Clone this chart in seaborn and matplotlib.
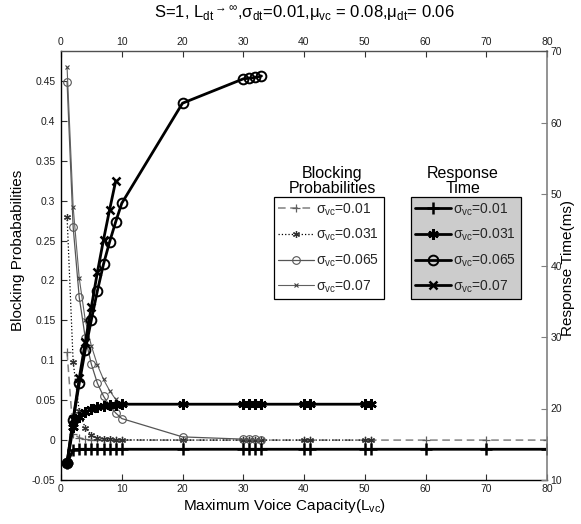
import numpy as np
import pandas as pd
import matplotlib
matplotlib.use("Agg")
import matplotlib.pyplot as plt
import seaborn as sns

sns.set_theme(style="white")
plt.rcParams['font.family'] = ['Liberation Sans', 'DejaVu Sans']
plt.rcParams['mathtext.fontset'] = 'custom'
plt.rcParams['mathtext.rm'] = 'Liberation Sans'
plt.rcParams['mathtext.it'] = 'Liberation Sans:italic'
plt.rcParams['mathtext.default'] = 'regular'

# ---------------- data ----------------
x_s001 = [1, 2, 3, 4, 5, 6, 7, 8, 9, 10, 20, 30, 31, 32, 33, 40, 41, 50, 51, 60, 70, 80]
x_s0031 = [1, 2, 3, 4, 5, 6, 7, 8, 9, 10, 20, 30, 31, 32, 33, 40, 41, 50, 51]
x_s0065 = [1, 2, 3, 4, 5, 6, 7, 8, 9, 10, 20, 30, 31, 32, 33]
x_s007 = [1, 2, 3, 4, 5, 6, 7, 8, 9]

# blocking probabilities (left axis)
bp_s001 = [0.11, 0.008, 0.003, 0.001, 0, 0, 0, 0, 0, 0, 0, 0, 0, 0, 0, 0, 0, 0, 0, 0, 0, 0]
bp_s0031 = [0.28, 0.098, 0.036, 0.015, 0.0065, 0.003, 0.0015, 0.0008, 0.0004, 0.0002,
            0, 0, 0, 0, 0, 0, 0, 0, 0]
bp_s0065 = [0.449, 0.267, 0.179, 0.128, 0.095, 0.071, 0.055, 0.043, 0.034, 0.027,
            0.004, 0.0012, 0.001, 0.0008, 0.0006]
bp_s007 = [0.467, 0.292, 0.203, 0.150, 0.118, 0.094, 0.076, 0.062, 0.051]

# response time in ms (right axis)
rt_s001 = [12.4, 14.2, 14.3, 14.3, 14.3, 14.3, 14.3, 14.3, 14.3, 14.3, 14.3, 14.3, 14.3,
           14.3, 14.3, 14.3, 14.3, 14.3, 14.3, 14.3, 14.3, 14.3]
rt_s0031 = [12.4, 17.4, 18.8, 19.5, 19.9, 20.2, 20.4, 20.5, 20.55, 20.6, 20.6, 20.6, 20.6,
            20.6, 20.6, 20.6, 20.6, 20.6, 20.6]
rt_s0065 = [12.4, 18.4, 23.5, 28.2, 32.4, 36.5, 40.2, 43.3, 46.1, 48.7, 62.7, 66.1, 66.2,
            66.3, 66.5]
rt_s007 = [12.4, 18.5, 24.2, 29.3, 34.2, 39.1, 43.6, 47.8, 51.8]

legend_labels = [r'$\sigma_{vc}$=0.01', r'$\sigma_{vc}$=0.031',
                 r'$\sigma_{vc}$=0.065', r'$\sigma_{vc}$=0.07']

left_ticks = [-0.05, 0, 0.05, 0.1, 0.15, 0.2, 0.25, 0.3, 0.35, 0.4, 0.45]
left_ticklabels = ['-0.05', '0', '0.05', '0.1', '0.15', '0.2', '0.25', '0.3', '0.35', '0.4', '0.45']
right_ticks = [10, 20, 30, 40, 50, 60, 70]
x_ticks = [0, 10, 20, 30, 40, 50, 60, 70, 80]

# ---------------- figure ----------------
W, H = 581, 524
fig = plt.figure(figsize=(W / 100, H / 100), dpi=100)
ax = fig.add_axes([61 / W, 1 - 480 / H, 486 / W, 429 / H])
ax2 = ax.twinx()

tick_col = '#202020'
ASTER = (6, 2, 0)

# blocking probability lines (thin)
bp_handles = []
sns.lineplot(x=x_s001, y=bp_s001, ax=ax, color='#808080', lw=1.1,
             marker='+', markersize=6, markeredgecolor='#606060', markeredgewidth=0.9,
             legend=False)
ln = ax.lines[-1]
ln.set_dashes((5, 3))
bp_handles.append(ln)
sns.lineplot(x=x_s0031, y=bp_s0031, ax=ax, color='black', lw=0.9, linestyle=':',
             marker=ASTER, markersize=5, markeredgecolor='#303030',
             markeredgewidth=0.9, legend=False)
bp_handles.append(ax.lines[-1])
sns.lineplot(x=x_s0065, y=bp_s0065, ax=ax, color='#555555', lw=0.9,
             marker='o', markersize=5.5, markeredgecolor='#555555', markerfacecolor='none',
             markeredgewidth=0.8, legend=False)
bp_handles.append(ax.lines[-1])
sns.lineplot(x=x_s007, y=bp_s007, ax=ax, color='#606060', lw=0.8,
             marker='x', markersize=3.5, markeredgecolor='#404040',
             markeredgewidth=0.8, legend=False)
bp_handles.append(ax.lines[-1])

# response time lines (bold)
rt_handles = []
sns.lineplot(x=x_s001, y=rt_s001, ax=ax2, color='black', lw=2,
             marker='+', markersize=8, markeredgecolor='black', markeredgewidth=1.8,
             legend=False)
rt_handles.append(ax2.lines[-1])
sns.lineplot(x=x_s0031, y=rt_s0031, ax=ax2, color='black', lw=2,
             marker=ASTER, markersize=7.5, markeredgecolor='black',
             markeredgewidth=1.8, legend=False)
rt_handles.append(ax2.lines[-1])
sns.lineplot(x=x_s0065, y=rt_s0065, ax=ax2, color='black', lw=2,
             marker='o', markersize=7, markeredgecolor='black', markerfacecolor='none',
             markeredgewidth=1.4, legend=False)
rt_handles.append(ax2.lines[-1])
sns.lineplot(x=x_s007, y=rt_s007, ax=ax2, color='black', lw=2,
             marker='x', markersize=5.5, markeredgecolor='black',
             markeredgewidth=1.8, legend=False)
rt_handles.append(ax2.lines[-1])

# axes limits & ticks
ax.set_xlim(0, 80)
ax.set_ylim(-0.05, 0.4875)
ax2.set_ylim(10, 70)
ax.set_xticks(x_ticks)
ax.set_xticklabels([str(v) for v in x_ticks])
ax.set_yticks(left_ticks)
ax.set_yticklabels(left_ticklabels)
ax2.set_yticks(right_ticks)
ax2.set_yticklabels([str(v) for v in right_ticks])

ax.tick_params(axis='x', which='both', direction='in', length=4, width=0.8,
               top=True, labeltop=True, bottom=True, labelbottom=True,
               labelsize=7.5, labelcolor=tick_col, pad=3, color='#303030')
ax.tick_params(axis='y', direction='in', length=4, width=0.8, left=True,
               labelsize=7.5, labelcolor=tick_col, pad=4, color='#303030')
ax2.tick_params(axis='y', direction='in', length=4, width=0.8, right=True,
                labelsize=7.5, labelcolor=tick_col, pad=2.5, color='#808080')

for s in ['left', 'bottom']:
    ax.spines[s].set_color('black')
    ax.spines[s].set_linewidth(1.0)
    ax2.spines[s].set_visible(False)
ax.spines['top'].set_visible(False)
ax.spines['right'].set_visible(False)
ax2.spines['top'].set_color('#505050')
ax2.spines['top'].set_linewidth(1.0)
ax2.spines['right'].set_color('#808080')
ax2.spines['right'].set_linewidth(1.2)

ax.set_xlabel(r'Maximum Voice Capacity(L$_{vc}$)', fontsize=11, color='black')
ax.xaxis.set_label_coords((284 - 61) / 486, (480 - 497) / 429)
ax.set_ylabel('Blocking Probababilities', fontsize=11, color='black')
ax.yaxis.set_label_coords((25 - 61) / 486, (480 - 250) / 429)
ax2.set_ylabel('Response Time(ms)', fontsize=11, color='black')
ax2.yaxis.set_label_coords((561 - 61) / 486, (480 - 268) / 429)

fig.text(304 / W, 1 - 13 / H,
         r'S=1, L$_{dt}$$^{\rightarrow\infty}$,$\sigma_{dt}$=0.01,$\mu_{vc}$ = 0.08,$\mu_{dt}$= 0.06',
         ha='center', va='center', fontsize=12, color='black')

# legends
leg_kw = dict(loc='upper left', bbox_transform=fig.transFigure, fontsize=10,
              frameon=True, fancybox=False, framealpha=1, edgecolor='black',
              borderaxespad=0, handlelength=2.6, handletextpad=0.15,
              labelspacing=0.67, borderpad=0.3, numpoints=1)
leg1 = ax2.legend(handles=bp_handles, labels=legend_labels,
                  bbox_to_anchor=(274 / W, 1 - 197 / H), facecolor='white', **leg_kw)
leg1.get_frame().set_linewidth(0.9)
ax2.add_artist(leg1)
leg2 = ax2.legend(handles=rt_handles, labels=legend_labels,
                  bbox_to_anchor=(411 / W, 1 - 197 / H), facecolor='#cccccc', **leg_kw)
leg2.get_frame().set_linewidth(0.9)

fig.text(332 / W, 1 - 181 / H, 'Blocking\nProbabilities', ha='center', va='center',
         fontsize=11.5, linespacing=1.05, color='black')
fig.text(463 / W, 1 - 181 / H, 'Response\nTime', ha='center', va='center',
         fontsize=11.5, linespacing=1.05, color='black')

fig.savefig('out.png', dpi=100)
